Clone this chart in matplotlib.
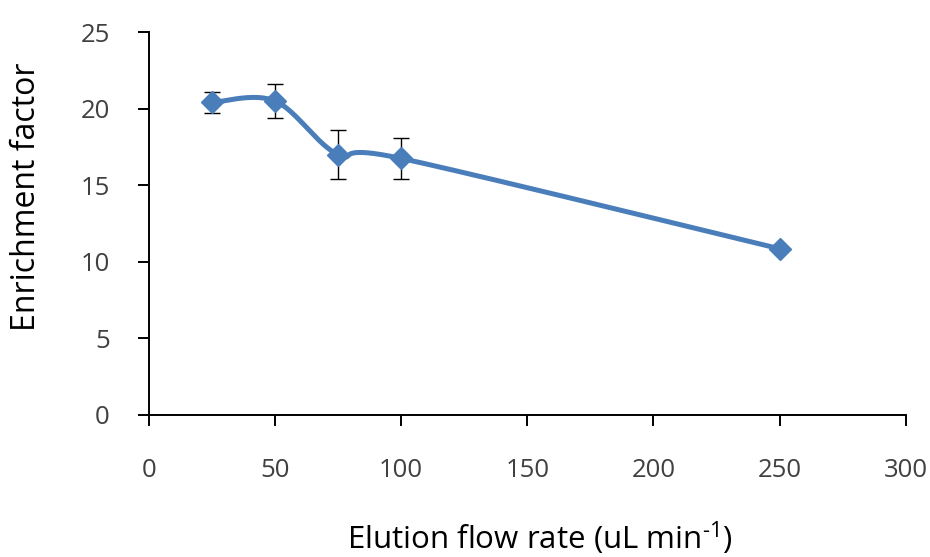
import numpy as np
import matplotlib.pyplot as plt

# Data
flow_rate = [25, 50, 75, 100, 250]
enrichment = [20.4, 20.5, 17.0, 16.75, 10.85]
err = [0.67, 1.13, 1.6, 1.35, 0.0]

x_ticks = [0, 50, 100, 150, 200, 250, 300]
y_ticks = [0, 5, 10, 15, 20, 25]


def smooth_curve(xs, ys, n=40):
    # Catmull-Rom style bezier, like spreadsheet "smoothed line"
    xs = np.asarray(xs, float)
    ys = np.asarray(ys, float)
    px, py = [], []
    for i in range(len(xs) - 1):
        x0, y0 = (xs[i - 1], ys[i - 1]) if i > 0 else (xs[i], ys[i])
        x3, y3 = (xs[i + 2], ys[i + 2]) if i + 2 < len(xs) else (xs[i + 1], ys[i + 1])
        x1, y1 = xs[i], ys[i]
        x2, y2 = xs[i + 1], ys[i + 1]
        c1x, c1y = x1 + (x2 - x0) / 6, y1 + (y2 - y0) / 6
        c2x, c2y = x2 - (x3 - x1) / 6, y2 - (y3 - y1) / 6
        t = np.linspace(0, 1, n)
        px.extend((1 - t) ** 3 * x1 + 3 * (1 - t) ** 2 * t * c1x + 3 * (1 - t) * t ** 2 * c2x + t ** 3 * x2)
        py.extend((1 - t) ** 3 * y1 + 3 * (1 - t) ** 2 * t * c1y + 3 * (1 - t) * t ** 2 * c2y + t ** 3 * y2)
    return px, py


plt.rcParams['font.family'] = ['Open Sans', 'DejaVu Sans']
plt.rcParams['mathtext.fontset'] = 'custom'
plt.rcParams['mathtext.rm'] = 'Open Sans'

fig = plt.figure(figsize=(9.3, 5.57), dpi=100)
ax = fig.add_axes([0.160, 0.255, 0.814, 0.6875])

sx, sy = smooth_curve(flow_rate, enrichment)
ax.plot(sx, sy, color='#4a7ebb', linewidth=3.6, solid_capstyle='round', zorder=2)

ax.errorbar(
    flow_rate,
    enrichment,
    yerr=err,
    fmt='none',
    ecolor='black',
    elinewidth=1,
    capsize=5.5,
    capthick=1,
    zorder=3
)

ax.plot(
    flow_rate,
    enrichment,
    linestyle='none',
    marker='D',
    markersize=11.5,
    color='#4a7ebb',
    zorder=4
)

ax.set_xlim(0, 300)
ax.set_ylim(0, 25)
ax.set_xticks(x_ticks)
ax.set_yticks(y_ticks)

for side in ['top', 'right']:
    ax.spines[side].set_visible(False)
for side in ['left', 'bottom']:
    ax.spines[side].set_linewidth(1.4)

ax.tick_params(axis='both', direction='out', length=8, width=1.4,
               labelsize=18.5, labelcolor='#404040')
ax.tick_params(axis='y', pad=20)
ax.tick_params(axis='x', pad=23)

ax.set_xlabel(r'Elution flow rate (uL min$^{\text{-1}}$)', fontsize=22.5)
ax.set_ylabel('Enrichment factor', fontsize=23)
ax.xaxis.set_label_coords(0.517, -0.273)
ax.yaxis.set_label_coords(-0.14, 0.569)

plt.savefig('out.png', dpi=100)
